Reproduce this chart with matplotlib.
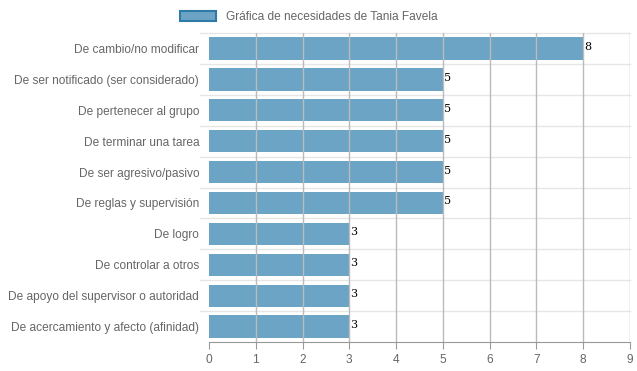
import matplotlib.pyplot as plt
from matplotlib.patches import Patch

plt.rcParams["font.family"] = ["Liberation Sans", "DejaVu Sans"]

categories = [
    "De cambio/no modificar",
    "De ser notificado (ser considerado)",
    "De pertenecer al grupo",
    "De terminar una tarea",
    "De ser agresivo/pasivo",
    "De reglas y supervisión",
    "De logro",
    "De controlar a otros",
    "De apoyo del supervisor o autoridad",
    "De acercamiento y afecto (afinidad)",
]
values = [8, 5, 5, 5, 5, 5, 3, 3, 3, 3]
series_name = "Gráfica de necesidades de Tania Favela"
x_ticks = list(range(0, 10))

BAR_COLOR = (44 / 255, 126 / 255, 171 / 255, 0.7)
TEXT = "#666666"

fig = plt.figure(figsize=(6.37, 3.71), dpi=100)
ax = fig.add_axes([0.328, 0.078, 0.661, 0.833])

n = len(categories)
pos = list(range(n))
ax.barh(pos, values, height=0.72, color=BAR_COLOR, zorder=2)

ax.set_xlim(0, 9)
ax.set_ylim(n - 0.5, -0.5)
ax.set_xticks(x_ticks)
ax.set_yticks(pos)
ax.set_yticklabels(categories)

# gridlines: vertical darker, horizontal light at category boundaries
for xv in x_ticks[1:]:
    ax.axvline(xv, color="#bbbbbb", lw=1, zorder=3)
for b in [i - 0.5 for i in range(n)]:
    ax.plot([-0.2, 9], [b, b], color="#e6e6e6", lw=1, zorder=1, clip_on=False)

for s in ["top", "right", "left"]:
    ax.spines[s].set_visible(False)
ax.spines["bottom"].set_color("#999999")
ax.tick_params(axis="y", length=0, pad=7, labelcolor=TEXT, labelsize=8.6)
ax.tick_params(axis="x", length=5, color="#999999", labelcolor=TEXT, labelsize=8.6)

for p, v in zip(pos, values):
    ax.text(v + 0.02, p - 0.05, str(v), fontsize=8, color="black",
            va="center", ha="left", family="DejaVu Serif", zorder=4)

handle = Patch(facecolor=BAR_COLOR, edgecolor="#2f7aa8", linewidth=1.5)
fig.legend([handle], [series_name], loc="upper center",
           bbox_to_anchor=(0.485, 1.0), frameon=False, fontsize=8.6,
           labelcolor=TEXT, handlelength=3, handleheight=1.0)

fig.savefig("out.png", dpi=100)
